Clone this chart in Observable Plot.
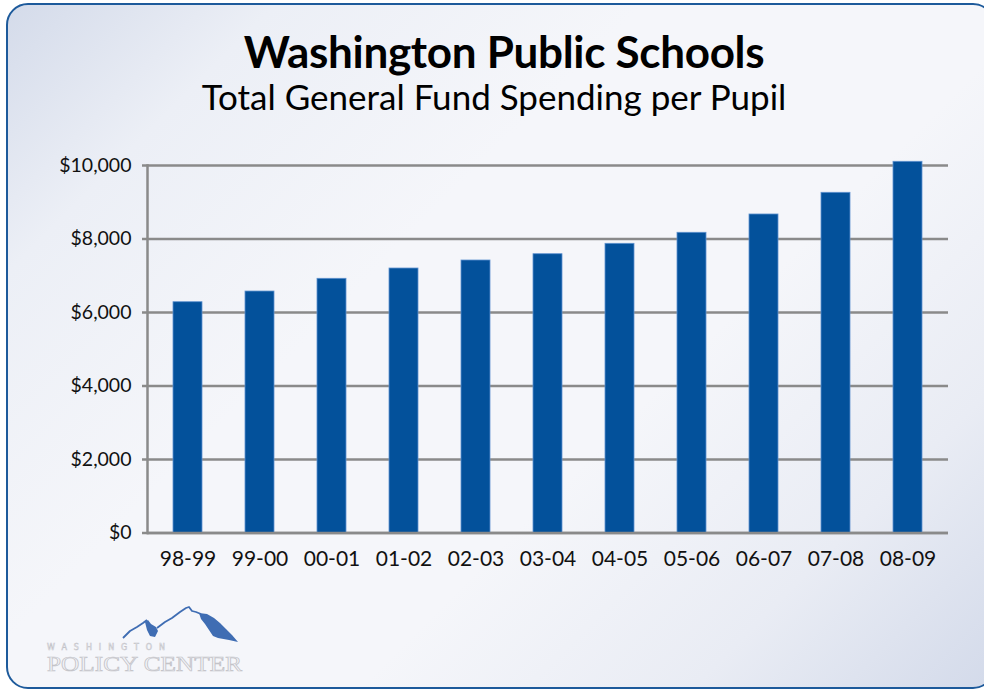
<!DOCTYPE html>
<html>
<head>
<meta charset="utf-8">
<script src="https://cdn.jsdelivr.net/npm/d3@7"></script>
<script src="https://cdn.jsdelivr.net/npm/@observablehq/plot@0.6"></script>
<style>
  html, body { margin: 0; padding: 0; width: 984px; height: 689px; overflow: hidden; background: #ffffff; }
  #wrap { position: relative; width: 984px; height: 689px; overflow: hidden; font-family: Lato, "Open Sans", sans-serif; }
  #panel { position: absolute; box-sizing: border-box; left: 6px; top: 3px; width: 989px; height: 686px; border: 2.5px solid #1d5a9b; border-radius: 22px;
    background: linear-gradient(135deg, #d4dbea 0%, #eceff6 16%, #f5f6fa 38%, #f5f6fa 62%, #e9ecf4 82%, #d3daea 100%); }
  .title { position: absolute; width: 1000px; text-align: center; line-height: 1; color: #000; white-space: nowrap; }
  #t1 { left: 4px; top: 29px; font-size: 44px; font-weight: 700; letter-spacing: -0.3px; }
  #t2 { left: -6px; top: 79px; font-size: 35px; font-weight: 400; }
  #chart { position: absolute; left: 0; top: 0; }
  #logo { position: absolute; left: 0; top: 590px; }
</style>
</head>
<body>
<div id="wrap">
  <div id="panel"></div>
  <div class="title" id="t1">Washington Public Schools</div>
  <div class="title" id="t2">Total General Fund Spending per Pupil</div>
  <div id="chart"></div>
  <svg id="logo" width="260" height="99" viewBox="0 0 260 99">
    <path d="M123,48 L130,41 L137,37 L143,33 L147,30 M157,38 L165,32 L172,28 L180,22 L186,18 L189,17 L192,21 L196,22 L201,24" fill="none" stroke="#3f6db3" stroke-width="1.8" stroke-linejoin="round"/>
    <path d="M145,32 L148,30 L151,34 L156,37 L158,41 L155,47 L150,46 L147,40 Z" fill="#3f6db3"/>
    <path d="M199,23 L207,24 L214,28 L220,33 L226,39 L232,45 L238,52 L229,50 L218,48 L213,46 L209,40 L205,34 L201,29 Z" fill="#3f6db3"/>
    <text x="47" y="60" textLength="118" lengthAdjust="spacing" font-family="'DejaVu Sans', sans-serif" font-size="8" fill="#f4f5f9" stroke="#c3c3c8" stroke-width="0.5">WASHINGTON</text>
    <text x="47" y="81" textLength="195" lengthAdjust="spacingAndGlyphs" font-family="'Liberation Serif', serif" font-size="20" fill="#f4f5f9" stroke="#c3c3c8" stroke-width="0.7">POLICY CENTER</text>
  </svg>
</div>
<script>
const years = ["98-99", "99-00", "00-01", "01-02", "02-03", "03-04", "04-05", "05-06", "06-07", "07-08", "08-09"];
const spending = [6280, 6571, 6917, 7197, 7415, 7586, 7869, 8169, 8667, 9257, 10101];
const yTicks = [0, 2000, 4000, 6000, 8000, 10000];

const data = years.map((year, i) => ({year, value: spending[i]}));
const fmt = d3.format(",");

const chart = Plot.plot({
  width: 984,
  height: 689,
  marginLeft: 147,
  marginRight: 36,
  marginTop: 165,
  marginBottom: 156.5,
  style: {background: "transparent", fontFamily: "Lato, 'Open Sans', sans-serif", overflow: "visible"},
  x: {domain: years, paddingInner: 0.6, paddingOuter: 0.3, label: null},
  y: {domain: [0, 10000], label: null},
  marks: [
    Plot.gridY(yTicks, {stroke: "#8a8a8a", strokeOpacity: 1, strokeWidth: 2.5}),
    Plot.barY(data, {x: "year", y: "value", fill: "#03519b", stroke: "#5f92cf", strokeWidth: 0.8}),
    Plot.frame({anchor: "left", stroke: "#8a8a8a", strokeWidth: 2.5}),
    Plot.ruleY([0], {stroke: "#8a8a8a", strokeWidth: 2.5}),
    Plot.axisY(yTicks, {tickSize: 5, tickPadding: 11, tickFormat: d => "$" + fmt(d), fontSize: 19.5, stroke: "#8a8a8a", strokeWidth: 2.5, fill: "#111", label: null}),
    Plot.axisX({tickSize: 0, tickPadding: 18, fontSize: 21, fill: "#111", label: null})
  ]
});
document.getElementById("chart").appendChild(chart);
</script>
</body>
</html>
